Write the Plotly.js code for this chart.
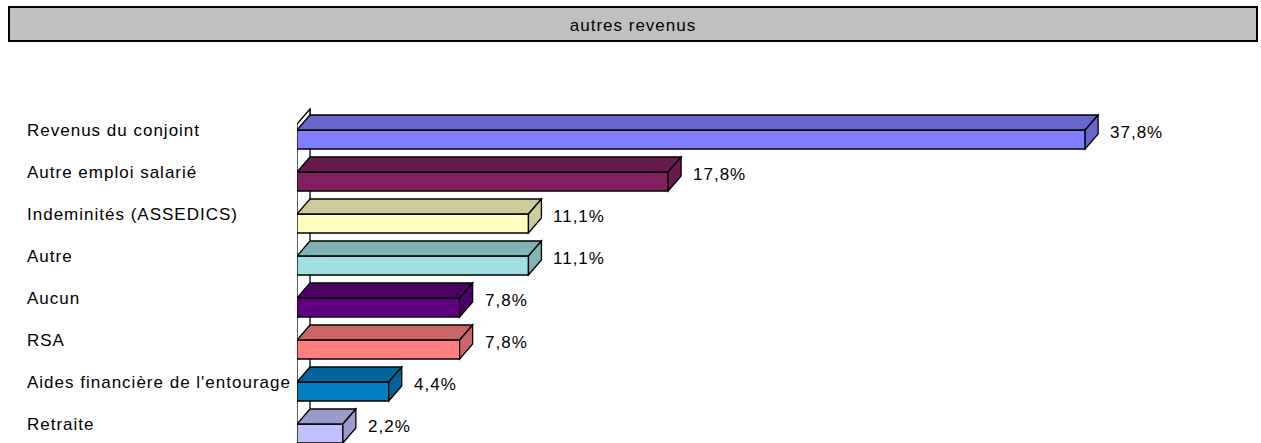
<!DOCTYPE html>
<html>
<head>
<meta charset="utf-8">
<script src="https://cdn.plot.ly/plotly-3.0.1.min.js"></script>
<style>
html,body{margin:0;padding:0;background:#fff;}
svg text{letter-spacing:1px;}
</style>
</head>
<body>
<div id="chart" style="width:1261px;height:443px;"></div>
<script>
// ---- data ----
const categories = ["Revenus du conjoint", "Autre emploi salarié", "Indeminités (ASSEDICS)", "Autre", "Aucun", "RSA", "Aides financière de l'entourage", "Retraite"];
const values = [37.8, 17.8, 11.1, 11.1, 7.8, 7.8, 4.4, 2.2];
const frontColors = ["#8080FF", "#802060", "#FFFFC0", "#A0E0E0", "#600080", "#FF8080", "#0080C0", "#C0C0FF"];
const shadeColors = ["#6666CC", "#661A4D", "#CCCC9A", "#80B3B3", "#4D0066", "#CC6666", "#006699", "#9A9ACC"];
const titleText = "autres revenus";

// ---- geometry (layout) ----
const W = 1261, H = 443;
const L = 297, PXU = 20.85, XMAX = 40;
const plotW = PXU * XMAX;
const R = W - L - plotW;
const PITCH = 42, C0 = 139.5;
const yRange = [(H - C0) / PITCH, -C0 / PITCH];
const pyToY = py => (py - C0) / PITCH;
const pxToPaper = px => (px - L) / plotW;
const barW = 19 / PITCH;
const dx = 13 / PXU, dy = 15 / PITCH;
const FONT = "Liberation Sans, Arial, sans-serif";

const idx = categories.map((_, i) => i);
const labels = values.map(v => v.toFixed(1).replace('.', ',') + '%');

const shapes = [];
// wall lines
shapes.push({type: 'line', xref: 'x', yref: 'y', x0: 0, x1: 0, y0: pyToY(124), y1: pyToY(H + 5), line: {color: '#000', width: 1.3}, layer: 'below'});
shapes.push({type: 'line', xref: 'x', yref: 'y', x0: dx, x1: dx, y0: pyToY(109), y1: pyToY(H + 5), line: {color: '#000', width: 1.3}, layer: 'below'});
shapes.push({type: 'path', xref: 'x', yref: 'y',
  path: `M 0 ${pyToY(131)} L 0 ${pyToY(124)} L ${dx} ${pyToY(109)} L ${dx} ${pyToY(116)} Z`,
  fillcolor: '#fff', line: {color: '#000', width: 1.3}});

idx.forEach(i => {
  const v = values[i];
  const yt = i - barW / 2, yb = i + barW / 2;
  shapes.push({type: 'path', xref: 'x', yref: 'y',
    path: `M 0 ${yt} L ${v} ${yt} L ${v + dx} ${yt - dy} L ${dx} ${yt - dy} Z`,
    fillcolor: shadeColors[i], line: {color: '#000', width: 1.3}});
  shapes.push({type: 'path', xref: 'x', yref: 'y',
    path: `M ${v} ${yt} L ${v + dx} ${yt - dy} L ${v + dx} ${yb - dy} L ${v} ${yb} Z`,
    fillcolor: shadeColors[i], line: {color: '#000', width: 1.3}});
});

// title box
shapes.push({type: 'rect', xref: 'paper', yref: 'paper',
  x0: pxToPaper(9), x1: pxToPaper(1257), y0: 1 - 41 / H, y1: 1 - 7 / H,
  fillcolor: '#C0C0C0', line: {color: '#000', width: 2}});

const annotations = [];
idx.forEach(i => {
  annotations.push({xref: 'paper', yref: 'y', x: pxToPaper(25), y: i - 9 / PITCH,
    xanchor: 'left', yanchor: 'middle', align: 'left', text: categories[i], showarrow: false,
    font: {family: FONT, size: 17, color: '#000'}});
  annotations.push({xref: 'x', yref: 'y', x: values[i], y: i - 7.5 / PITCH,
    xanchor: 'left', yanchor: 'middle', align: 'left', xshift: 23, text: labels[i], showarrow: false,
    font: {family: FONT, size: 17, color: '#000'}});
});

const trace = {
  type: 'bar', orientation: 'h', x: values, y: idx, width: barW,
  marker: {color: frontColors, line: {color: '#000', width: 1.3}},
  hoverinfo: 'none', showlegend: false
};

const layout = {
  width: W, height: H,
  margin: {l: L, r: R, t: 0, b: 0, pad: 0},
  paper_bgcolor: '#fff', plot_bgcolor: 'rgba(0,0,0,0)',
  title: {text: titleText, xref: 'paper', x: pxToPaper(633), xanchor: 'center',
    yref: 'container', y: 1 - 25 / H, yanchor: 'middle',
    font: {family: FONT, size: 17, color: '#000'}},
  xaxis: {range: [0, XMAX], visible: false, showgrid: false, zeroline: false, fixedrange: true},
  yaxis: {range: yRange, visible: false, showgrid: false, zeroline: false, fixedrange: true},
  shapes: shapes,
  annotations: annotations,
  bargap: 0
};

Plotly.newPlot('chart', [trace], layout, {displayModeBar: false, staticPlot: true});
</script>
</body>
</html>
